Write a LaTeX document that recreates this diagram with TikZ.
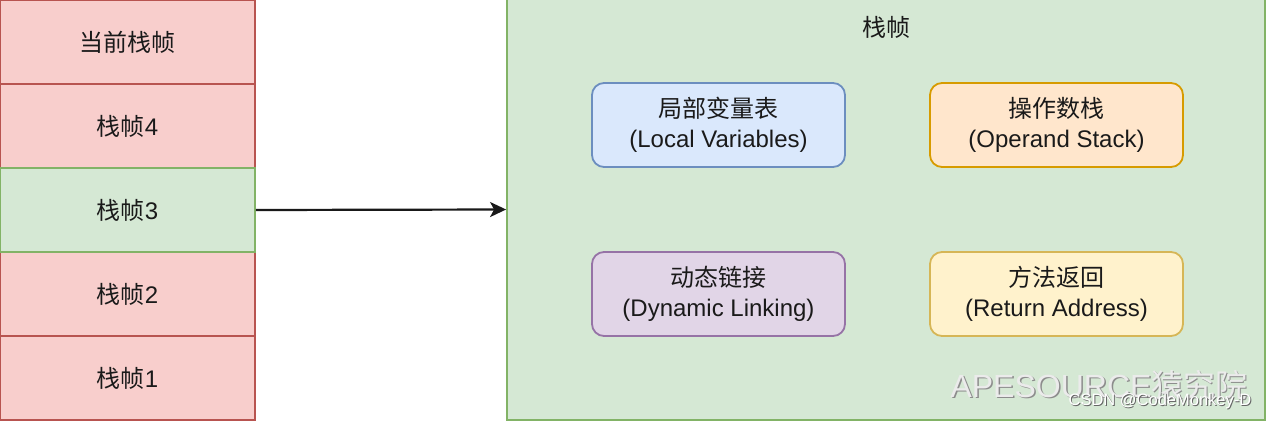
\documentclass[tikz,border=0pt]{standalone}
\usepackage{fontspec}
\setmainfont{Liberation Sans}
\newfontfamily\cjk{Noto Sans CJK SC}
\usetikzlibrary{arrows.meta}
\definecolor{redF}{HTML}{F8CECC}\definecolor{redD}{HTML}{B85450}
\definecolor{greenF}{HTML}{D5E8D4}\definecolor{greenD}{HTML}{82B366}
\definecolor{blueF}{HTML}{DAE8FC}\definecolor{blueD}{HTML}{6C8EBF}
\definecolor{orangeF}{HTML}{FFE6CC}\definecolor{orangeD}{HTML}{D79B00}
\definecolor{purpleF}{HTML}{E1D5E7}\definecolor{purpleD}{HTML}{9673A6}
\definecolor{yellowF}{HTML}{FFF2CC}\definecolor{yellowD}{HTML}{D6B656}
\definecolor{txt}{HTML}{1A1A1A}
\tikzset{
  base/.style={font=\fontsize{24}{30}\selectfont, text=txt, align=center, line width=1.8pt, inner sep=0pt},
  framebox/.style={base, rectangle, minimum width=255pt, minimum height=84pt},
  redbox/.style={framebox, fill=redF, draw=redD},
  greenbox/.style={framebox, fill=greenF, draw=greenD},
  part/.style={base, rectangle, rounded corners=12pt, minimum width=253pt, minimum height=84pt},
  conn/.style={line width=2.2pt, black!90, -{Stealth[length=16pt,width=15pt,inset=4pt]}},
}
\begin{document}
\begin{tikzpicture}[x=1pt,y=-1pt]
\useasboundingbox (0,0) rectangle (1268,420);
\fill[white] (0,0) rectangle (1268,420);
% stack of frames
\node[redbox] (f0) at (127.5,42) {{\cjk 当前栈帧}};
\node[redbox] (f4) at (127.5,126) {{\cjk 栈帧}4};
\node[redbox] (f2) at (127.5,294) {{\cjk 栈帧}2};
\node[redbox] (f1) at (127.5,378) {{\cjk 栈帧}1};
\node[greenbox] (f3) at (127.5,210) {{\cjk 栈帧}3};
% big frame
\node[base, rectangle, fill=greenF, draw=greenD, minimum width=758pt, minimum height=421pt] (frame) at (886,209.5) {};
\node[base] (title) at (886,27) {{\cjk 栈帧}};
% parts
\node[part, fill=blueF, draw=blueD] (lv) at (718.5,125) {{\cjk 局部变量表}\\(Local Variables)};
\node[part, fill=orangeF, draw=orangeD] (os) at (1056.5,125) {{\cjk 操作数栈}\\(Operand Stack)};
\node[part, fill=purpleF, draw=purpleD] (dl) at (718.5,294) {{\cjk 动态链接}\\(Dynamic Linking)};
\node[part, fill=yellowF, draw=yellowD] (ra) at (1056.5,294) {{\cjk 方法返回}\\(Return Address)};
% arrow
\draw[conn] (f3.east) -- (frame.west);
% watermarks
\node[font=\fontsize{32}{32}\selectfont, text=black!45, inner sep=0pt] (wmshadow) at (1100.5,386.5) {APESOURCE{\cjk 猿究院}};
\node[font=\fontsize{32}{32}\selectfont, text=black!8, inner sep=0pt] (wm) at (1099,385) {APESOURCE{\cjk 猿究院}};
\node[font=\fontsize{16.5}{16.5}\selectfont, text=black!60, inner sep=0pt] (csdnshadow) at (1161,402) {CSDN @CodeMonkey-D};
\node[font=\fontsize{16.5}{16.5}\selectfont, text=white, inner sep=0pt] (csdn) at (1160,401) {CSDN @CodeMonkey-D};
\end{tikzpicture}
\end{document}
